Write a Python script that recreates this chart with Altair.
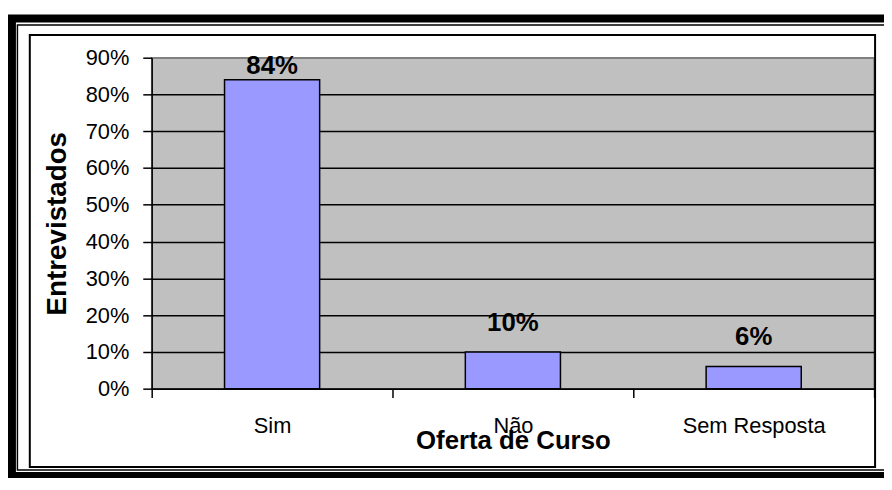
import altair as alt
import pandas as pd

categories = ["Sim", "Não", "Sem Resposta"]
values = [0.84, 0.10, 0.06]
labels = ["84%", "10%", "6%"]
y_ticks = [0, 0.1, 0.2, 0.3, 0.4, 0.5, 0.6, 0.7, 0.8, 0.9]

df = pd.DataFrame({"cat": categories, "val": values, "label": labels})

FONT = "Liberation Sans"
W, H = 729, 334

x_axis = alt.Axis(
    title="Oferta de Curso",
    tickBand="extent",
    labelAngle=0,
    labelFont=FONT,
    labelFontSize=22,
    labelColor="black",
    labelPadding=18,
    labelOverlap=False,
    tickSize=9,
    tickColor="black",
    tickWidth=1.5,
    domainColor="black",
    domainWidth=1.5,
    grid=False,
    titleFont=FONT,
    titleFontSize=26,
    titleFontWeight="bold",
    titleColor="black",
    titleY=60,
    titleBaseline="alphabetic",
)

y_axis = alt.Axis(
    values=y_ticks,
    format=".0%",
    title="Entrevistados",
    titleFont=FONT,
    titleFontSize=28,
    titleFontWeight="bold",
    titleColor="black",
    titleAngle=270,
    titleX=-87,
    titleBaseline="alphabetic",
    labelFont=FONT,
    labelFontSize=22,
    labelColor="black",
    labelPadding=14,
    labelOverlap=False,
    tickSize=9,
    tickColor="black",
    tickWidth=1.5,
    domainColor="black",
    domainWidth=1.5,
    grid=True,
    gridColor=alt.condition("datum.value >= 0.89", alt.value("#808080"), alt.value("black")),
    gridWidth=1.5,
)

x_scale = alt.Scale(paddingInner=0, paddingOuter=0)
y_scale = alt.Scale(domain=[0, 0.9], nice=False)

base = alt.Chart(df)

bars = base.mark_bar(
    width=alt.RelativeBandSize(0.395),
    color="#9999FF",
    stroke="black",
    strokeWidth=1.5,
).encode(
    x=alt.X("cat:N", sort=categories, scale=x_scale, axis=x_axis),
    y=alt.Y("val:Q", scale=y_scale, axis=y_axis),
)

text = base.transform_calculate(
    label_y="min(datum.val + 0.058, 0.855)"
).mark_text(
    font=FONT, fontSize=26, fontWeight="bold", color="black", baseline="alphabetic"
).encode(
    x=alt.X("cat:N", sort=categories, scale=x_scale, axis=x_axis),
    y=alt.Y("label_y:Q", scale=y_scale, axis=y_axis),
    text="label:N",
)

frame_df = pd.DataFrame({"k": [0]})
outer = alt.Chart(frame_df).mark_rect(fill=None, stroke="black", strokeWidth=8).encode(
    x=alt.value(-141), x2=alt.value(760), y=alt.value(-39.5), y2=alt.value(422)
)
thin = alt.Chart(frame_df).mark_rect(fill=None, stroke="black", strokeWidth=1.5).encode(
    x=alt.value(-135.5), x2=alt.value(760), y=alt.value(-33), y2=alt.value(416)
)
inner = alt.Chart(frame_df).mark_rect(fill=None, stroke="black", strokeWidth=2).encode(
    x=alt.value(-123), x2=alt.value(730), y=alt.value(-23), y2=alt.value(413)
)

chart = alt.layer(bars, text, outer, thin, inner).properties(
    width=W,
    height=H,
    autosize=alt.AutoSizeParams(type="none"),
    padding={"left": 145, "top": 48, "right": 10, "bottom": 88},
    background="white",
).configure_view(
    fill="#C0C0C0", stroke="#808080", strokeWidth=1.5
)

chart.save("out.html", embed_options={"renderer": "svg", "actions": False})
